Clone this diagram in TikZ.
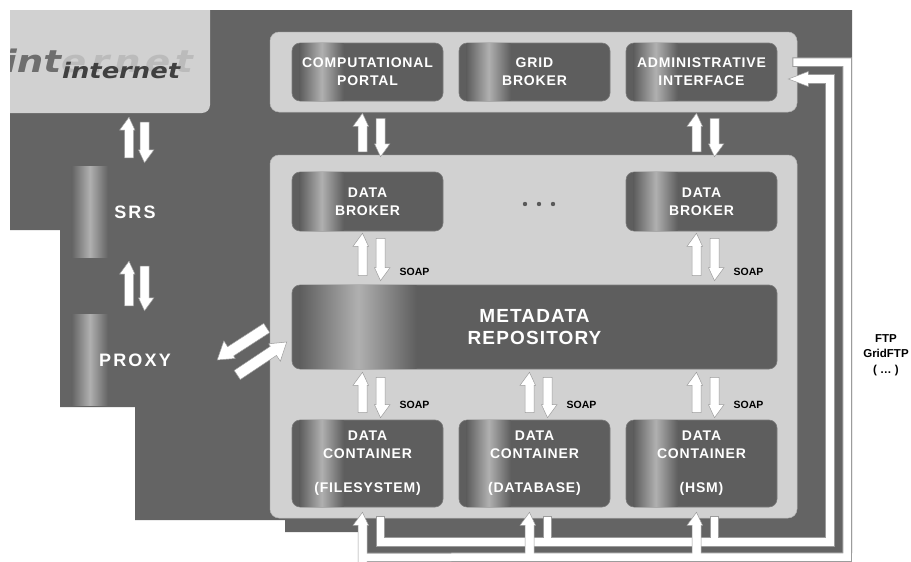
\documentclass[tikz,border=0pt]{standalone}
\usepackage{fontspec}
\setmainfont{Liberation Sans}
\newfontfamily\lblfont{Liberation Sans}[LetterSpace=6]
\newfontfamily\sidefont{Liberation Sans}[LetterSpace=12]
\newfontfamily\inetfont{DejaVu Sans}[FakeStretch=1.2]
\newfontfamily\inetwide{DejaVu Sans}[FakeStretch=1.2,LetterSpace=15]
\usetikzlibrary{calc}
\definecolor{bgdark}{HTML}{646464}
\definecolor{panelc}{HTML}{D1D1D1}
\definecolor{paneledge}{HTML}{B5B5B5}
\definecolor{boxc}{HTML}{5E5E5E}
\definecolor{boxedge}{HTML}{7C7C7C}
\definecolor{hl}{HTML}{B0B0B0}
\definecolor{arredge}{HTML}{9C9C9C}
\definecolor{intdark}{HTML}{6E6E6E}
\definecolor{intlight}{HTML}{BBBBBB}
\definecolor{inettext}{HTML}{404040}
\definecolor{dotc}{HTML}{5A5A5A}

% block arrow: tail, tip, shaft half width, left barb, right barb, head length
\newcommand\blockarr[6]{%
  \filldraw[fill=white, draw=arredge, line width=0.5pt, line join=miter]
    let \p1=#1, \p2=#2,
        \n1={atan2(\y2-\y1,\x2-\x1)},
        \n2={veclen(\x2-\x1,\y2-\y1)}
    in [shift={(\p1)}, rotate=\n1]
    (0pt,{-#3pt}) -- ({\n2-#6pt},{-#3pt}) -- ({\n2-#6pt},{-#3pt-#5pt})
    -- ({\n2+0pt},0pt) -- ({\n2-#6pt},{#3pt+#4pt}) -- ({\n2-#6pt},{#3pt})
    -- (0pt,{#3pt}) -- cycle;}

% pair of arrows between an upper node (#2) and a lower node (#3), x from #1
\newcommand\arrpair[7]{%
  \blockarr{($(#3.north -| #1)+(#6,{-(#5)-5})$)}{($(#2.south -| #1)+(#6,#4)$)}{4.5}{5}{1.5}{13}
  \blockarr{($(#2.south -| #1)+(#7,{#4+5})$)}{($(#3.north -| #1)+(#7,{-(#5)})$)}{4.5}{5}{1.5}{13}}

% soft highlight band inside a node: node, start, end, base colour, inset
\newcommand\hlband[5]{%
  \shade[left color=#4, right color=#4, middle color=hl]
    ($(#1.north west)+(#2,#5)$) rectangle ($(#1.south west)+(#3,{-(#5)})$);}

\begin{document}
\begin{tikzpicture}[x=1pt,y=-1pt,
  panel/.style={rectangle, fill=panelc, draw=paneledge, line width=0.5pt, rounded corners=9pt, inner sep=0pt},
  dbox/.style={rectangle, fill=boxc, draw=boxedge, line width=0.6pt, rounded corners=8pt,
      inner sep=0pt, minimum width=151pt},
  lbl/.style={text=white, align=center, font=\lblfont\bfseries\fontsize{14}{18}\selectfont, inner sep=0pt},
  sidebox/.style={rectangle, inner sep=0pt, minimum width=126pt, minimum height=90pt},
  sidelbl/.style={text=white, inner sep=0pt, font=\sidefont\bfseries\fontsize{18}{20}\selectfont},
  soap/.style={font=\bfseries\fontsize{10.5}{12}\selectfont, text=black, inner sep=0pt},
  pipeg/.style={draw=arredge, line width=9.5pt, line join=miter},
  pipew/.style={draw=white, line width=7.5pt, line join=miter},
  dotn/.style={circle, fill=dotc, inner sep=0pt, minimum size=4.4pt}
]
\useasboundingbox (0,0) rectangle (911,562);
\fill[white] (0,0) rectangle (911,562);

% dark backdrop
\fill[bgdark] (10,10) -- (852,10) -- (852,553) -- (362,553) -- (362,532) -- (285,532) -- (285,520)
  -- (135,520) -- (135,407) -- (60,407) -- (60,230) -- (10,230) -- cycle;

% internet box
\begin{scope}
  \clip (10,10) rectangle (210,113);
  \fill[panelc, rounded corners=8pt] (0,0) rectangle (210,113);
  \node[anchor=base west, inner sep=0pt, font=\bfseries\itshape\fontsize{31}{31}\selectfont]
    (inetbig) at (4,72) {\textcolor{intdark}{\inetfont int}\textcolor{intlight}{\inetwide ernet}};
  \node[anchor=base west, inner sep=0pt, text=inettext, font=\inetfont\bfseries\itshape\fontsize{21.5}{22}\selectfont]
    (inetsmall) at (62,78) {internet};
\end{scope}
\node[inner sep=0pt, minimum width=200pt, minimum height=103pt] (inet) at (110,61.5) {};

% SRS and PROXY
\node[sidebox] (srs) at (135,212) {};
\node[sidebox] (proxy) at (135,360) {};
\hlband{srs}{0}{36}{bgdark}{0}
\hlband{proxy}{0}{36}{bgdark}{0}
\node[sidelbl] (srstext) at (srs) {SRS};
\node[sidelbl] (proxytext) at (proxy) {PROXY};

% panels
\node[panel, minimum width=527pt, minimum height=80pt] (toppanel) at (533.5,72) {};
\node[panel, minimum width=527pt, minimum height=363pt] (midpanel) at (533.5,336.5) {};

% boxes
\node[dbox, minimum height=58pt] (portal) at (367.5,72) {};
\node[dbox, minimum height=58pt] (grid) at (534.5,72) {};
\node[dbox, minimum height=58pt] (admin) at (701.5,72) {};
\node[dbox, minimum height=59pt] (dbl) at (367.5,201.5) {};
\node[dbox, minimum height=59pt] (dbr) at (701.5,201.5) {};
\node[dbox, minimum width=485pt, minimum height=84pt] (meta) at (534.5,327) {};
\node[dbox, minimum height=87pt] (dcfs) at (367.5,463.5) {};
\node[dbox, minimum height=87pt] (dcdb) at (534.5,463.5) {};
\node[dbox, minimum height=87pt] (dchsm) at (701.5,463.5) {};
\foreach \b in {portal,grid,admin,dbl,dbr,dcfs,dcdb,dchsm}{\hlband{\b}{8}{52}{boxc}{0.6}}
\hlband{meta}{8}{125}{boxc}{0.6}

\node[lbl] (portaltext) at (portal) {COMPUTATIONAL\\PORTAL};
\node[lbl] (gridtext) at (grid) {GRID\\BROKER};
\node[lbl] (admintext) at (admin) {ADMINISTRATIVE\\INTERFACE};
\node[lbl] (dbltext) at (dbl) {DATA\\BROKER};
\node[lbl] (dbrtext) at (dbr) {DATA\\BROKER};
\node[lbl, font=\lblfont\bfseries\fontsize{19}{22}\selectfont] (metatext) at (meta) {METADATA\\REPOSITORY};
\node[lbl] (dcfstext) at (dcfs) {DATA\\CONTAINER\\[16pt](FILESYSTEM)};
\node[lbl] (dcdbtext) at (dcdb) {DATA\\CONTAINER\\[16pt](DATABASE)};
\node[lbl] (dchsmtext) at (dchsm) {DATA\\CONTAINER\\[16pt](HSM)};

% dots
\node[dotn] (dot1) at (525,204) {};
\node[dotn] (dot2) at (539,204) {};
\node[dotn] (dot3) at (553,204) {};

% arrow pairs
\arrpair{srs}{inet}{srs}{4}{4}{-6}{9.5}
\arrpair{srs}{srs}{proxy}{4}{4}{-6}{9.5}
\arrpair{portal}{toppanel}{midpanel}{1}{-2}{-5}{13}
\arrpair{admin}{toppanel}{midpanel}{1}{-2}{-5}{13}
\arrpair{dbl}{dbl}{meta}{2}{4}{-5}{13}
\arrpair{dbr}{dbr}{meta}{2}{4}{-5}{13}
\arrpair{dcfs}{meta}{dcfs}{3}{2}{-5}{13}
\arrpair{dcdb}{meta}{dcdb}{3}{2}{-5}{13}
\arrpair{dchsm}{meta}{dchsm}{3}{2}{-5}{13}

% proxy <-> metadata
\blockarr{($(meta.west)+(-25,1)$)}{($(proxy.east)+(19,0)$)}{5.5}{3}{7}{16}
\blockarr{($(proxy.east)+(39,15)$)}{($(meta.west)+(-5,15)$)}{5.5}{3}{7}{16}

% SOAP labels
\node[soap] (s1) at ($(dbl.south |- meta.north)+(47,-13)$) {SOAP};
\node[soap] (s2) at ($(dbr.south |- meta.north)+(47,-13)$) {SOAP};
\node[soap] (s3) at ($(dcfs.north)+(47,-15)$) {SOAP};
\node[soap] (s4) at ($(dcdb.north)+(47,-15)$) {SOAP};
\node[soap] (s5) at ($(dchsm.north)+(47,-15)$) {SOAP};

% FTP pipes
\coordinate (ib) at (830,542);
\coordinate (it) at (830,79);
\coordinate (ot) at (847,62);
\coordinate (ob) at (847,557);
% inner pipe: containers -> administrative interface
\draw[pipeg] ($(dcfs.south)+(13,9)$) |- (ib) -- (it) -- ($(admin.east)+(27,7)$);
\draw[pipeg] ($(dcdb.south)+(13,9)$) -- ($(dcdb.south)+(13,35)$);
\draw[pipeg] ($(dchsm.south)+(13,9)$) -- ($(dchsm.south)+(13,35)$);
\blockarr{($(admin.east)+(33,7)$)}{($(admin.east)+(11,7)$)}{3.75}{3.75}{3.75}{20}
\draw[pipew] ($(dcfs.south)+(13,10)$) |- (ib) -- (it) -- ($(admin.east)+(29,7)$);
\draw[pipew] ($(dcdb.south)+(13,10)$) -- ($(dcdb.south)+(13,35)$);
\draw[pipew] ($(dchsm.south)+(13,10)$) -- ($(dchsm.south)+(13,35)$);
% outer pipe: administrative interface -> containers
\draw[pipeg] ($(admin.east)+(15,-10)$) -- (ot) -- (ob) -- ($(dcfs.south)+(-5,50)$);
\blockarr{($(dcfs.south)+(-5,56)$)}{($(dcfs.south)+(-5,5)$)}{4.5}{5}{1.5}{13}
\blockarr{($(dcdb.south)+(-5,50)$)}{($(dcdb.south)+(-5,5)$)}{4.5}{5}{1.5}{13}
\blockarr{($(dchsm.south)+(-5,50)$)}{($(dchsm.south)+(-5,5)$)}{4.5}{5}{1.5}{13}
\draw[pipew] ($(admin.east)+(16,-10)$) -- (ot) -- (ob) -- ($(dcfs.south)+(-5,50)$);

% FTP label
\node[align=center, font=\bfseries\fontsize{11.5}{15.5}\selectfont, inner sep=0pt] (ftp) at (886,355)
  {FTP\\GridFTP\\( … )};
\end{tikzpicture}
\end{document}
